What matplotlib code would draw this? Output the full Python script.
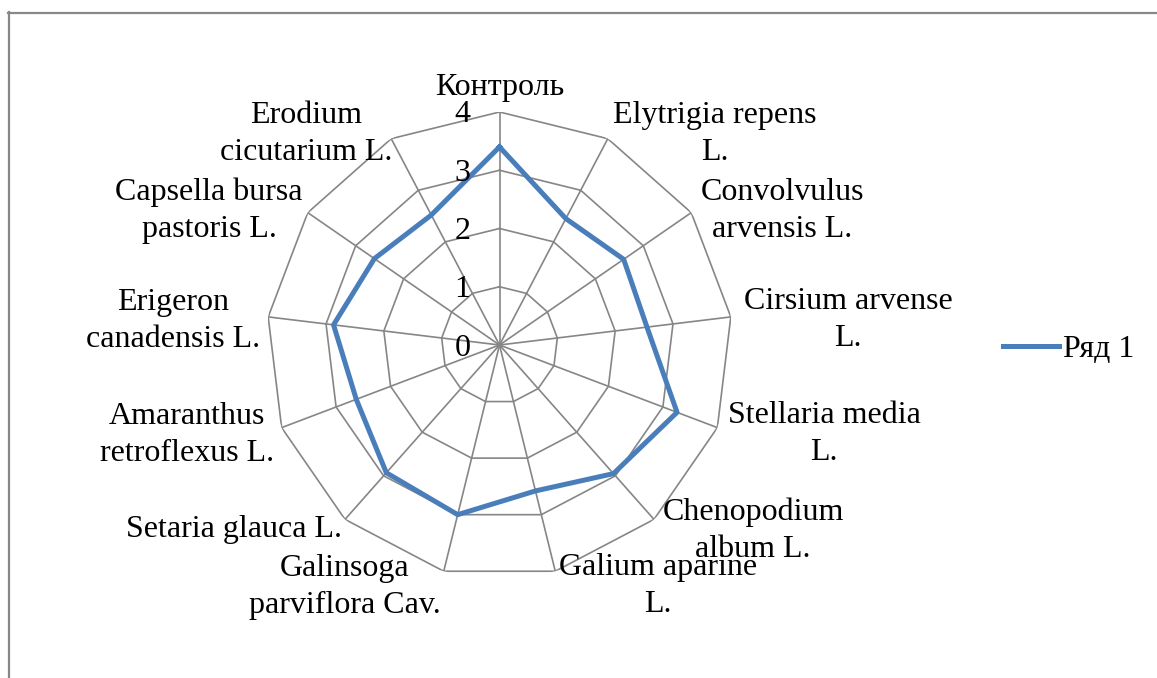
import numpy as np
import matplotlib
matplotlib.use("Agg")
import matplotlib.pyplot as plt
from matplotlib.lines import Line2D
from matplotlib.transforms import offset_copy

plt.rcParams['font.family'] = ['Liberation Serif', 'DejaVu Serif']

categories = ["Контроль", "Elytrigia repens\nL.", "Convolvulus\narvensis L.",
              "Cirsium arvense\nL.", "Stellaria media\nL.", "Chenopodium\nalbum L.",
              "Galium aparine\nL.", "Galinsoga\nparviflora Cav.", "Setaria glauca L.",
              "Amaranthus\nretroflexus L.", "Erigeron\ncanadensis L.",
              "Capsella bursa\npastoris L.", "Erodium\ncicutarium L."]
values = [3.40, 2.45, 2.59, 2.55, 3.26, 2.95, 2.58, 3.00, 2.93, 2.63, 2.87, 2.61, 2.52]
levels = [0, 1, 2, 3, 4]
series_name = "Ряд 1"

# label centres in pixels (layout only)
label_px = [(500, 87), (715, 134), (782, 211), (848, 320), (824, 434), (753, 531),
            (658, 586), (345, 587), (234, 530), (187, 435), (173, 321), (209, 211),
            (306, 134)]

FS = 23
W, H = 1157, 678
fig = plt.figure(figsize=(W / 100, H / 100), dpi=100)
cx, cy, R = 499.5, 345.0, 233.0
ax = fig.add_axes([(cx - R) / W, 1 - (cy + R) / H, 2 * R / W, 2 * R / H], projection='polar')
ax.set_theta_offset(np.pi / 2)
ax.set_theta_direction(-1)
ax.set_ylim(0, 4)
ax.grid(False)
ax.spines['polar'].set_visible(False)
ax.set_xticks([])
ax.set_yticks([])
ax.patch.set_visible(False)

n = len(categories)
theta = np.arange(n) * 2 * np.pi / n
tc = np.append(theta, theta[0])
gridc = '#868686'
for lv in levels[1:]:
    ax.plot(tc, [lv] * (n + 1), color=gridc, lw=1.2, zorder=1)
for t in theta:
    ax.plot([t, t], [0, levels[-1]], color=gridc, lw=1.2, zorder=1)

vc = np.append(values, values[0])
line, = ax.plot(tc, vc, color='#4A7EBB', lw=3.6, zorder=3, label=series_name)

tr = offset_copy(ax.transData, fig=fig, x=-29, y=-3, units='dots')
for lv in levels:
    ax.text(0, lv, str(lv), transform=tr, ha='right', va='center', fontsize=FS, zorder=4)

for lab, (x, y) in zip(categories, label_px):
    fig.text(x / W, 1 - y / H, lab, ha='center', va='center', fontsize=FS,
             linespacing=1.37, multialignment='center')

fig.legend(handles=[line], labels=[series_name], loc='center left',
           bbox_to_anchor=(1003 / W, 1 - 349 / H), frameon=False, fontsize=FS,
           handlelength=1.75, handletextpad=0.12, borderpad=0, borderaxespad=0)

fig.add_artist(Line2D([8.5 / W, 8.5 / W], [0, 1 - 12 / H], color='#888888', lw=1.6))
fig.add_artist(Line2D([8 / W, 1], [1 - 12.5 / H, 1 - 12.5 / H], color='#888888', lw=1.6))

fig.savefig('out.png', dpi=100)
